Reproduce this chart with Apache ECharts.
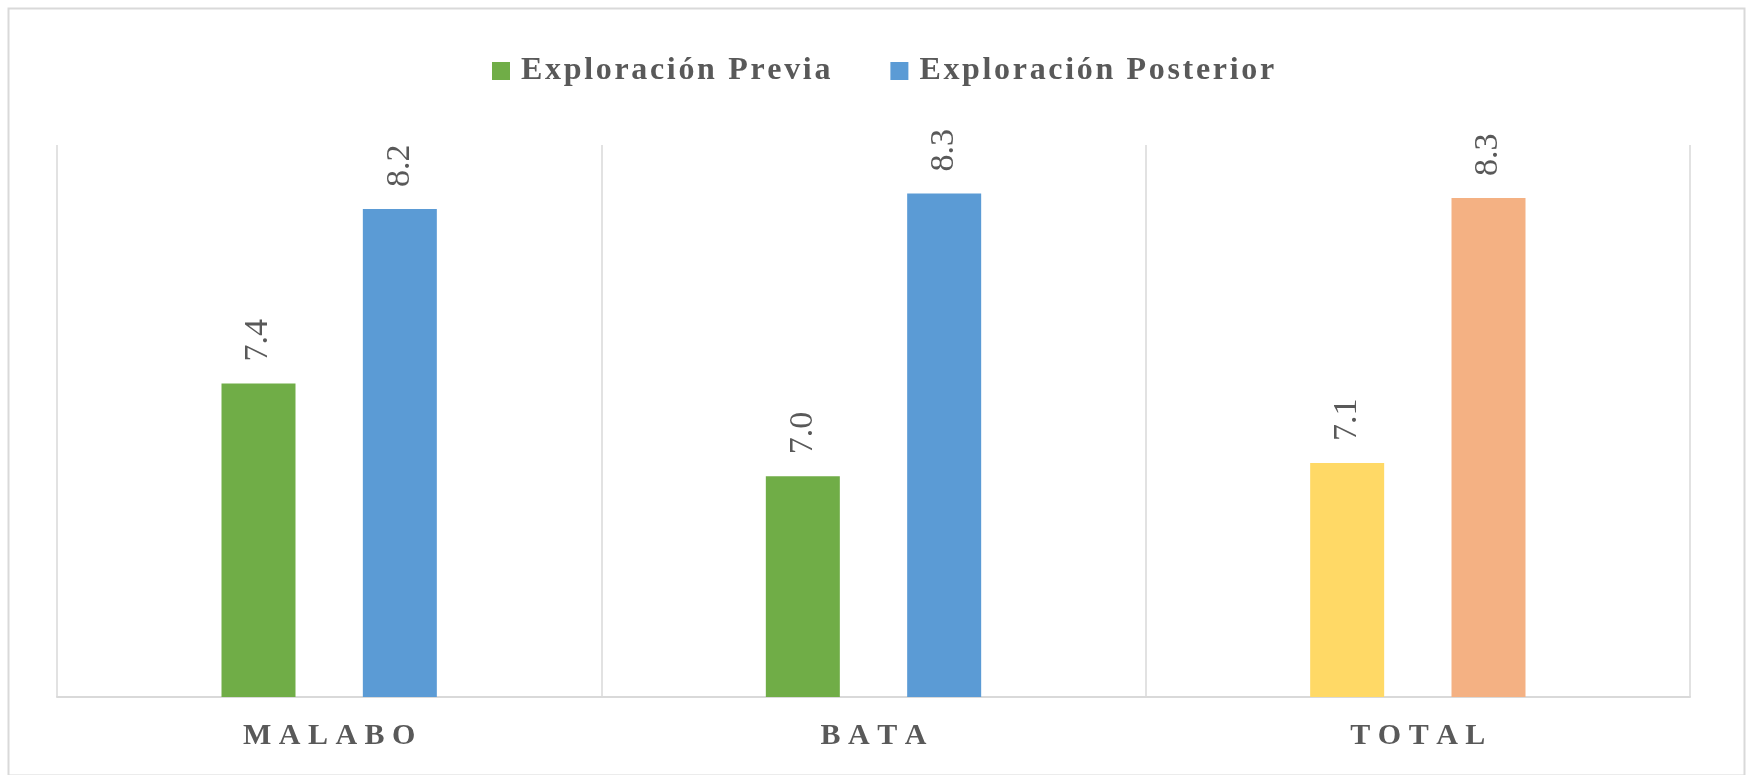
<!DOCTYPE html>
<html>
<head>
<meta charset="utf-8">
<script src="https://cdn.jsdelivr.net/npm/echarts@6/dist/echarts.min.js"></script>
<style>
  html, body { margin: 0; padding: 0; background: #ffffff; }
  #chart { width: 1746px; height: 775px; }
</style>
</head>
<body>
<div id="chart"></div>
<script>
// ---- data ----
const categories = ['MALABO', 'BATA', 'TOTAL'];
const seriesNames = ['Exploración Previa', 'Exploración Posterior'];
const previa = [7.42, 7.00, 7.06];
const posterior = [8.21, 8.28, 8.26];

// ---- styles ----
const GREEN = '#70AD47', BLUE = '#5B9BD5', YELLOW = '#FFD966', ORANGE = '#F4B183';
const TEXT = '#595959', GRID = '#D9D9D9';
const SERIF = '"Liberation Serif", "DejaVu Serif", "Times New Roman", serif';

const chart = echarts.init(document.getElementById('chart'), null, { renderer: 'canvas' });

function spaced(s) { return s.split('').join(' '); }
function hairSpaced(s) { return s.split('').join('\u200A'); }

function buildData(values, totalColor) {
  return values.map((v, i) => categories[i] === 'TOTAL'
    ? { value: v, itemStyle: { color: totalColor } }
    : v);
}

const labelCfg = {
  show: true,
  position: 'top',
  rotate: 90,
  align: 'left',
  verticalAlign: 'middle',
  distance: 22,
  color: TEXT,
  fontFamily: SERIF,
  fontSize: 34,
  formatter: p => Number(p.value).toFixed(1)
};

chart.setOption({
  animation: false,
  backgroundColor: '#ffffff',
  graphic: [{
    type: 'rect', left: 6, top: 6, silent: true,
    shape: { width: 1736, height: 767 },
    style: { fill: null, stroke: GRID, lineWidth: 2 }
  }],
  legend: {
    top: 50,
    left: 487,
    icon: 'rect',
    itemWidth: 18,
    itemHeight: 18,
    itemGap: 60,
    formatter: n => hairSpaced(n),
    textStyle: { color: TEXT, fontFamily: SERIF, fontWeight: 'bold', fontSize: 32, padding: [0, 0, 0, 6] },
    data: seriesNames
  },
  grid: { left: 57, right: 56, top: 145, bottom: 78, containLabel: false },
  xAxis: {
    type: 'category',
    data: categories,
    axisLine: { show: true, lineStyle: { color: GRID, width: 2 } },
    axisTick: { show: false },
    splitLine: { show: true, lineStyle: { color: GRID, width: 1.5 } },
    axisLabel: {
      margin: 24,
      color: TEXT,
      fontFamily: SERIF,
      fontWeight: 'bold',
      fontSize: 30,
      formatter: v => spaced(v)
    }
  },
  yAxis: {
    type: 'value',
    min: 6,
    max: 8.5,
    show: false,
    splitLine: { show: false }
  },
  series: [
    {
      name: seriesNames[0],
      type: 'bar',
      barWidth: 74,
      barGap: '91%',
      itemStyle: { color: GREEN },
      label: labelCfg,
      data: buildData(previa, YELLOW)
    },
    {
      name: seriesNames[1],
      type: 'bar',
      barWidth: 74,
      barGap: '91%',
      itemStyle: { color: BLUE },
      label: labelCfg,
      data: buildData(posterior, ORANGE)
    }
  ]
});
</script>
</body>
</html>
